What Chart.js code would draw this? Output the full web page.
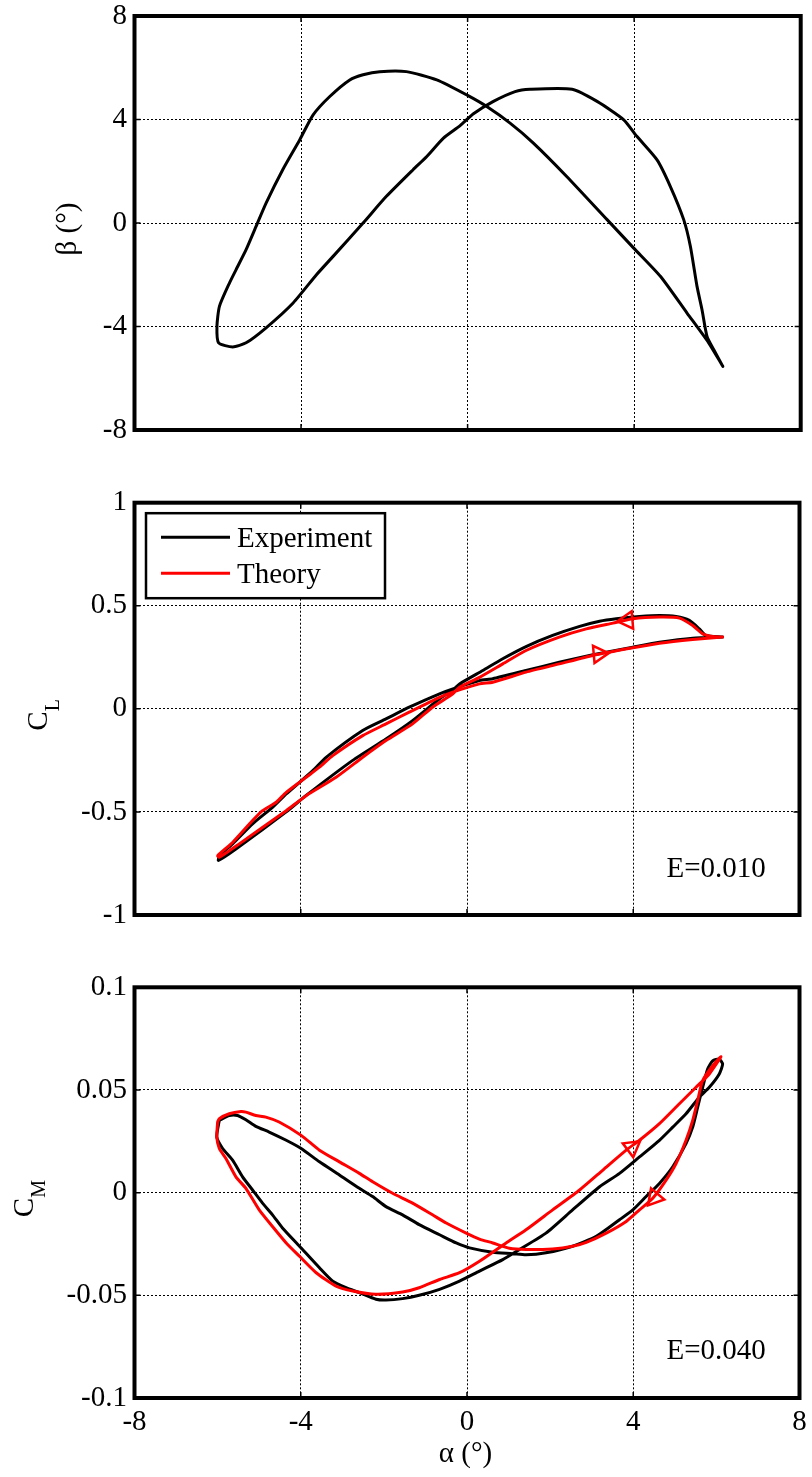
<!DOCTYPE html>
<html>
<head>
<meta charset="utf-8">
<script src="https://cdn.jsdelivr.net/npm/chart.js@4.4.1/dist/chart.umd.min.js"></script>
<style>
  html, body { margin: 0; padding: 0; background: #fff; }
  #wrap { position: relative; width: 812px; height: 1477px; overflow: hidden; background: #fff; }
  #wrap canvas { position: absolute; left: 0; }
</style>
</head>
<body>
<div id="wrap">
  <canvas id="panelBeta" width="812" height="466" style="top:0px"></canvas>
  <canvas id="panelCL" width="812" height="485" style="top:466px"></canvas>
  <canvas id="panelCM" width="812" height="526" style="top:951px"></canvas>
</div>
<script>
// ---- tick values and labels ----
const alphaTicks = [-8, -4, 0, 4, 8];
const alphaTickLabels = ['-8', '-4', '0', '4', '8'];
const betaTicks = [-8, -4, 0, 4, 8];
const betaTickLabels = ['-8', '-4', '0', '4', '8'];
const clTicks = [-1, -0.5, 0, 0.5, 1];
const clTickLabels = ['-1', '-0.5', '0', '0.5', '1'];
const cmTicks = [-0.1, -0.05, 0, 0.05, 0.1];
const cmTickLabels = ['-0.1', '-0.05', '0', '0.05', '0.1'];

// ---- beta vs alpha, one closed cycle [alpha, beta] ----
const betaLoop = [
  [6.13,-5.54],[5.79,-4.63],[5.27,-3.48],[4.63,-2.06],[3.99,-0.97],[3.35,0.13],[2.38,1.80],
  [1.58,3.09],[1.02,3.86],[0.46,4.50],[0.0,4.93],[-0.74,5.53],[-1.47,5.85],[-2.11,5.85],
  [-2.51,5.73],[-2.83,5.53],[-3.31,4.89],[-3.71,4.18],[-4.03,3.22],[-4.44,2.06],[-4.84,0.77],
  [-5.08,-0.13],[-5.32,-1.03],[-5.56,-1.80],[-5.72,-2.32],[-5.96,-3.22],[-6.02,-3.99],
  [-5.98,-4.63],[-5.64,-4.79],[-5.32,-4.63],[-4.84,-4.05],[-4.19,-3.09],[-3.63,-2.0],
  [-3.23,-1.29],[-2.51,0],[-1.95,1.03],[-1.31,2.06],[-0.98,2.57],[-0.58,3.28],[-0.18,3.76],
  [0.14,4.22],[0.62,4.70],[1.14,5.08],[1.50,5.17],[2.51,5.17],[3.11,4.70],[3.75,3.99],
  [4.07,3.34],[4.55,2.44],[4.87,1.41],[5.19,0.13],[5.35,-0.90],[5.51,-2.45],[5.63,-3.35],
  [5.75,-4.38],[5.91,-4.89],[6.13,-5.54]
];

// ---- lift coefficient cycle [alpha, CL] ----
const clExperiment = [
  [6.15,0.348],[5.75,0.356],[5.59,0.388],[5.35,0.429],[5.03,0.448],[4.63,0.453],[4.15,0.448],
  [3.59,0.437],[3.19,0.425],[2.71,0.400],[2.06,0.356],[1.42,0.302],[0.86,0.243],[0.38,0.186],
  [-0.18,0.121],[-0.34,0.092],[-0.66,0.049],[-1.31,-0.057],[-1.95,-0.146],[-2.75,-0.250],
  [-3.87,-0.420],[-4.35,-0.500],[-5.56,-0.680],[-5.98,-0.735],[-5.95,-0.712],[-5.64,-0.655],
  [-5.16,-0.558],[-4.68,-0.478],[-4.35,-0.413],[-3.71,-0.300],[-3.39,-0.235],[-2.51,-0.105],
  [-1.95,-0.049],[-1.39,0.008],[-0.66,0.073],[-0.34,0.097],[0.30,0.137],[0.62,0.146],
  [1.42,0.186],[2.22,0.226],[3.03,0.262],[3.99,0.299],[4.63,0.323],[5.43,0.343],[6.15,0.348]
];
const clTheory = [
  [6.15,0.348],[5.91,0.351],[5.67,0.364],[5.43,0.404],[5.11,0.440],[4.63,0.445],[3.99,0.437],
  [3.51,0.416],[2.87,0.388],[2.22,0.348],[1.42,0.283],[0.86,0.218],[0.30,0.153],[-0.18,0.105],
  [-0.34,0.073],[-0.83,0.008],[-1.31,-0.073],[-1.95,-0.154],[-2.51,-0.235],[-3.15,-0.332],
  [-3.87,-0.421],[-4.35,-0.494],[-5.48,-0.655],[-5.96,-0.720],[-6.00,-0.712],[-5.64,-0.648],
  [-5.16,-0.542],[-4.92,-0.494],[-4.59,-0.453],[-4.35,-0.405],[-3.87,-0.332],[-3.55,-0.283],
  [-3.23,-0.227],[-2.51,-0.130],[-1.95,-0.073],[-1.39,-0.016],[-0.66,0.056],[-0.34,0.081],
  [0.30,0.121],[0.62,0.129],[1.42,0.178],[2.22,0.218],[3.03,0.259],[3.99,0.296],[4.63,0.318],
  [5.43,0.336],[6.15,0.348]
];
// direction markers on the theory cycle and their headings (degrees, clockwise from up)
const clArrows = [[3.86,0.429],[3.17,0.266]];
const clArrowHeading = [265, 85];

// ---- moment coefficient cycle [alpha, CM] ----
const cmExperiment = [
  [-5.96,0.0352],[-5.72,0.0376],[-5.52,0.0376],[-5.32,0.0355],[-5.08,0.0323],[-4.76,0.0295],
  [-4.35,0.0255],[-3.99,0.0215],[-3.55,0.0150],[-3.07,0.0086],[-2.59,0.0021],[-2.27,-0.0019],
  [-1.95,-0.0068],[-1.55,-0.0108],[-1.15,-0.0156],[-0.66,-0.0205],[-0.26,-0.0245],[0.06,-0.0269],
  [0.62,-0.0290],[1.10,-0.0297],[1.42,-0.0303],[1.90,-0.0293],[2.54,-0.0261],[3.11,-0.0213],
  [3.67,-0.0132],[3.99,-0.0084],[4.31,-0.0019],[4.63,0.0045],[4.95,0.0126],[5.27,0.0239],
  [5.43,0.0319],[5.55,0.0416],[5.67,0.0513],[5.79,0.0602],[5.91,0.0642],[6.07,0.0650],
  [6.15,0.0626],[6.07,0.0578],[5.83,0.0513],[5.59,0.0465],[5.27,0.0384],[4.95,0.0319],
  [4.63,0.0255],[4.15,0.0174],[3.67,0.0094],[3.19,0.0029],[2.54,-0.0084],[1.90,-0.0197],
  [1.26,-0.0277],[0.86,-0.0326],[0.30,-0.0382],[-0.18,-0.0431],[-0.66,-0.0471],[-1.15,-0.0500],
  [-1.55,-0.0516],[-1.95,-0.0523],[-2.19,-0.0519],[-2.59,-0.0487],[-2.91,-0.0463],[-3.23,-0.0431],
  [-3.55,-0.0366],[-4.03,-0.0261],[-4.44,-0.0172],[-4.68,-0.0108],[-4.92,-0.0051],[-5.16,0.0013],
  [-5.40,0.0077],[-5.64,0.0158],[-5.88,0.0215],[-6.02,0.0271],[-5.96,0.0352]
];
const cmTheory = [
  [-6.00,0.0344],[-5.96,0.0360],[-5.72,0.0384],[-5.44,0.0395],[-5.32,0.0392],[-5.08,0.0376],
  [-4.84,0.0368],[-4.52,0.0344],[-3.99,0.0279],[-3.55,0.0207],[-3.07,0.0150],[-2.59,0.0094],
  [-2.27,0.0053],[-1.79,-0.0003],[-1.31,-0.0051],[-0.83,-0.0108],[-0.50,-0.0148],[-0.02,-0.0197],
  [0.30,-0.0226],[0.62,-0.0245],[1.02,-0.0271],[1.42,-0.0277],[2.06,-0.0274],[2.54,-0.0261],
  [2.87,-0.0242],[3.35,-0.0197],[3.83,-0.0140],[4.15,-0.0084],[4.47,-0.0027],[4.79,0.0061],
  [5.03,0.0142],[5.27,0.0255],[5.43,0.0352],[5.55,0.0449],[5.67,0.0546],[5.91,0.0618],
  [6.11,0.0662],[5.83,0.0578],[5.51,0.0513],[5.11,0.0433],[4.63,0.0336],[4.15,0.0255],
  [3.83,0.0207],[3.27,0.0110],[2.71,0.0013],[2.06,-0.0084],[1.42,-0.0181],[0.94,-0.0245],
  [0.30,-0.0334],[-0.18,-0.0390],[-0.66,-0.0423],[-1.15,-0.0463],[-1.55,-0.0484],[-2.19,-0.0495],
  [-2.75,-0.0479],[-3.15,-0.0455],[-3.63,-0.0390],[-4.03,-0.0310],[-4.35,-0.0245],[-4.68,-0.0165],
  [-5.00,-0.0084],[-5.32,0.0021],[-5.56,0.0077],[-5.80,0.0166],[-5.96,0.0215],[-6.02,0.0271],
  [-6.00,0.0344]
];
const cmArrows = [[3.97,0.0221],[4.51,-0.0025]];
const cmArrowHeading = [53, 220];

// ---- styling ----
const SERIF = "'Liberation Serif', 'Times New Roman', Times, serif";
const FONT_SIZE = 29;
const SUB_SIZE = 20;
const BLACK = '#000000';
const RED = '#ff0000';

const toPoints = arr => arr.map(p => ({ x: p[0], y: p[1] }));

function curve(label, arr, color, order) {
  return {
    label, data: toPoints(arr), showLine: true, borderColor: color, backgroundColor: color,
    borderWidth: 3, pointRadius: 0, pointHoverRadius: 0, tension: 0.2, fill: false,
    borderJoinStyle: 'round', borderCapStyle: 'round', order
  };
}
function arrows(arr, headings, color) {
  return {
    label: '', data: toPoints(arr), showLine: false, pointStyle: 'triangle',
    pointRadius: 10, pointHoverRadius: 10, pointRotation: headings,
    pointBorderColor: color, pointBackgroundColor: 'rgba(0,0,0,0)', pointBorderWidth: 2.5,
    order: 0
  };
}

// frame box with inward tick marks on all four sides
const frameBox = {
  id: 'frameBox',
  afterDraw(chart) {
    const { ctx, chartArea: a, scales: { x, y } } = chart;
    ctx.save();
    ctx.strokeStyle = BLACK;
    ctx.lineWidth = 1.5;
    ctx.beginPath();
    x.ticks.forEach(t => {
      const p = x.getPixelForValue(t.value);
      ctx.moveTo(p, a.bottom); ctx.lineTo(p, a.bottom - 6);
      ctx.moveTo(p, a.top); ctx.lineTo(p, a.top + 6);
    });
    y.ticks.forEach(t => {
      const p = y.getPixelForValue(t.value);
      ctx.moveTo(a.left, p); ctx.lineTo(a.left + 6, p);
      ctx.moveTo(a.right, p); ctx.lineTo(a.right - 6, p);
    });
    ctx.stroke();
    ctx.lineWidth = 4;
    ctx.strokeRect(a.left, a.top, a.right - a.left, a.bottom - a.top);
    ctx.restore();
  }
};

// axis titles (with subscripts), in-plot note and boxed legend
const panelText = {
  id: 'panelText',
  afterDraw(chart, args, opts) {
    const { ctx, chartArea: a, scales: { x, y } } = chart;
    ctx.save();
    ctx.fillStyle = BLACK;
    ctx.textBaseline = 'alphabetic';

    if (opts.yTitle) {
      const t = opts.yTitle;
      ctx.font = FONT_SIZE + 'px ' + SERIF;
      const wMain = ctx.measureText(t.main).width;
      let wSub = 0;
      if (t.sub) { ctx.font = SUB_SIZE + 'px ' + SERIF; wSub = ctx.measureText(t.sub).width; }
      const total = wMain + wSub;
      const cy = (a.top + a.bottom) / 2 + 6;
      ctx.translate(t.x, cy + total / 2);
      ctx.rotate(-Math.PI / 2);
      ctx.textAlign = 'left';
      ctx.font = FONT_SIZE + 'px ' + SERIF;
      ctx.fillText(t.main, 0, 0);
      if (t.sub) {
        ctx.font = SUB_SIZE + 'px ' + SERIF;
        ctx.fillText(t.sub, wMain, 12);
      }
      ctx.setTransform(1, 0, 0, 1, 0, 0);
    }

    if (opts.xTitle) {
      ctx.font = FONT_SIZE + 'px ' + SERIF;
      ctx.textAlign = 'center';
      ctx.fillText(opts.xTitle.text, (a.left + a.right) / 2 - 1.5, opts.xTitle.y);
    }

    if (opts.note) {
      ctx.font = FONT_SIZE + 'px ' + SERIF;
      ctx.textAlign = 'left';
      ctx.fillText(opts.note.text, x.getPixelForValue(opts.note.ax), y.getPixelForValue(opts.note.ay));
    }

    if (opts.legend) {
      const items = chart.data.datasets.filter(d => d.showLine && d.label);
      const bx = a.left + 11.5, by = a.top + 10.5, bw = 239, bh = 85;
      ctx.fillStyle = '#ffffff';
      ctx.fillRect(bx, by, bw, bh);
      ctx.strokeStyle = BLACK;
      ctx.lineWidth = 2.5;
      ctx.strokeRect(bx, by, bw, bh);
      ctx.font = FONT_SIZE + 'px ' + SERIF;
      ctx.textAlign = 'left';
      items.forEach((d, i) => {
        const ry = by + 24 + i * 36;
        ctx.strokeStyle = d.borderColor;
        ctx.lineWidth = 3;
        ctx.beginPath();
        ctx.moveTo(bx + 15, ry); ctx.lineTo(bx + 84, ry);
        ctx.stroke();
        ctx.fillStyle = BLACK;
        ctx.fillText(d.label, bx + 91, ry + 10);
      });
    }
    ctx.restore();
  }
};

function axisFont() { return { family: SERIF, size: FONT_SIZE, lineHeight: 1 }; }

function makePanel(canvasId, cfg) {
  return new Chart(document.getElementById(canvasId), {
    type: 'scatter',
    data: { datasets: cfg.datasets },
    options: {
      responsive: false,
      animation: false,
      devicePixelRatio: 1,
      events: [],
      layout: { padding: { top: cfg.padTop, right: 11.3, left: 0, bottom: 0 } },
      plugins: {
        legend: { display: false },
        tooltip: { enabled: false },
        panelText: cfg.text
      },
      scales: {
        x: {
          type: 'linear', min: -8, max: 8,
          afterBuildTicks: s => { s.ticks = alphaTicks.map(v => ({ value: v })); },
          afterFit: s => { s.height = cfg.xHeight; s.paddingLeft = 0; s.paddingRight = 0; },
          grid: { color: BLACK, lineWidth: 1, drawTicks: false },
          border: { display: false, dash: [2, 2] },
          ticks: {
            display: cfg.showX, padding: 10, color: BLACK, font: axisFont(),
            autoSkip: false, maxRotation: 0, callback: (v, i) => alphaTickLabels[i]
          }
        },
        y: {
          type: 'linear', min: cfg.yTicks[0], max: cfg.yTicks[cfg.yTicks.length - 1],
          afterBuildTicks: s => { s.ticks = cfg.yTicks.map(v => ({ value: v })); },
          afterFit: s => { s.width = 134.5; s.paddingTop = 0; s.paddingBottom = 0; },
          grid: { color: BLACK, lineWidth: 1, drawTicks: false },
          border: { display: false, dash: [2, 2] },
          ticks: {
            padding: 7.5, color: BLACK, font: axisFont(), autoSkip: false,
            callback: (v, i) => cfg.yLabels[i]
          }
        }
      }
    },
    plugins: [panelText, frameBox]
  });
}

makePanel('panelBeta', {
  padTop: 16, xHeight: 36, showX: false,
  yTicks: betaTicks, yLabels: betaTickLabels,
  datasets: [curve('β', betaLoop, BLACK, 1)],
  text: { yTitle: { main: 'β (°)', x: 76 } }
});

makePanel('panelCL', {
  padTop: 36.7, xHeight: 36, showX: false,
  yTicks: clTicks, yLabels: clTickLabels,
  datasets: [
    curve('Experiment', clExperiment, BLACK, 2),
    curve('Theory', clTheory, RED, 1),
    arrows(clArrows, clArrowHeading, RED)
  ],
  text: {
    yTitle: { main: 'C', sub: 'L', x: 47 },
    note: { text: 'E=0.010', ax: 4.8, ay: -0.817 },
    legend: true
  }
});

makePanel('panelCM', {
  padTop: 36.3, xHeight: 79, showX: true,
  yTicks: cmTicks, yLabels: cmTickLabels,
  datasets: [
    curve('Experiment', cmExperiment, BLACK, 2),
    curve('Theory', cmTheory, RED, 1),
    arrows(cmArrows, cmArrowHeading, RED)
  ],
  text: {
    yTitle: { main: 'C', sub: 'M', x: 33 },
    xTitle: { text: 'α (°)', y: 511 },
    note: { text: 'E=0.040', ax: 4.8, ay: -0.081 }
  }
});
</script>
</body>
</html>
